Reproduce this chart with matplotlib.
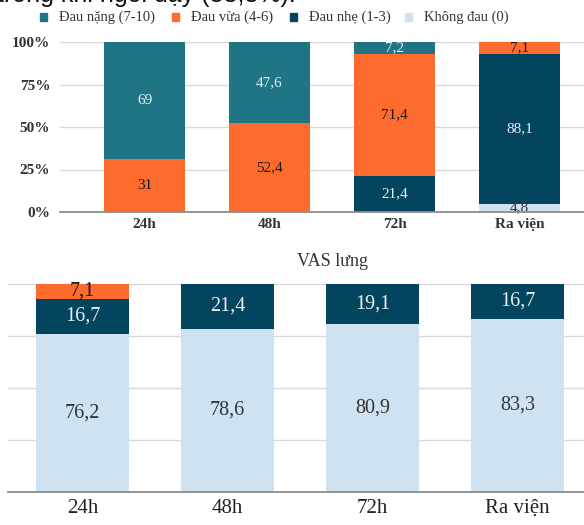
import numpy as np
import matplotlib.pyplot as plt

plt.rcParams['font.family'] = ['Liberation Serif', 'DejaVu Serif']

# phân bố mức độ đau (%) theo thời điểm
times = ["24h", "48h", "72h", "Ra viện"]
series = ["Đau nặng (7-10)", "Đau vừa (4-6)", "Đau nhẹ (1-3)", "Không đau (0)"]

# biểu đồ trên
top_khong = [0, 0, 0, 4.8]
top_nhe = [0, 0, 21.4, 88.1]
top_vua = [31, 52.4, 71.4, 7.1]
top_nang = [69, 47.6, 7.2, 0]

# VAS lưng
vas_khong = [76.2, 78.6, 80.9, 83.3]
vas_nhe = [16.7, 21.4, 19.1, 16.7]
vas_vua = [7.1, 0, 0, 0]

c_nang = "#1f7585"
c_vua = "#fe6b2e"
c_nhe = "#03445f"
c_khong = "#cfe2f2"
txt_color = {c_nang: "#e8f0f2", c_vua: "#1a1a1a", c_nhe: "#e8eef2", c_khong: "#333333"}

W, H = 584, 525
fig = plt.figure(figsize=(W / 100, H / 100), dpi=100)


def px_axes(left, top, right, bottom):
    return fig.add_axes([left / W, 1 - bottom / H, (right - left) / W, (bottom - top) / H])


def stacked(ax, layers, width, fs):
    x = np.arange(len(times))
    base = np.zeros(len(times))
    for vals, col in layers:
        vals = np.array(vals, dtype=float)
        ax.bar(x, vals, width, bottom=base, color=col, zorder=2)
        for xi, b, v in zip(x, base, vals):
            if v > 0:
                ax.text(xi, b + v / 2, f"{v:g}".replace(".", ","), ha="center", va="center",
                        fontsize=fs, color=txt_color[col], zorder=3)
        base += vals
    ax.set_ylim(0, 100)
    ax.set_yticks([0, 25, 50, 75, 100])
    ax.grid(axis="y", color="#d9d9d9", lw=1, zorder=0)
    for s in ["top", "right", "left"]:
        ax.spines[s].set_visible(False)
    ax.spines["bottom"].set_color("#8c8c8c")
    ax.spines["bottom"].set_linewidth(1.3)
    ax.spines["bottom"].set_zorder(4)
    ax.set_xticks(x)
    ax.set_xticklabels(times)
    ax.tick_params(length=0)


# dòng chữ phía trên (bị cắt)
fig.text(-0.005, 1 - 2 / H, "trong khi ngồi dậy (83,3%).", fontsize=18,
         family="Liberation Sans", va="baseline", ha="left", color="#111111")

# chú thích
leg_items = [(c_nang, 40, series[0]), (c_vua, 172, series[1]),
             (c_nhe, 290, series[2]), (c_khong, 405, series[3])]
for col, xp, lab in leg_items:
    fig.patches.append(plt.Rectangle((xp / W, 1 - 21 / H), 7 / W, 8 / H,
                                     color=col, transform=fig.transFigure, figure=fig))
    fig.text((xp + 19) / W, 1 - 17 / H, lab, fontsize=10.5, va="center", ha="left", color="#333333")

# biểu đồ trên
ax1 = px_axes(60, 42, 584, 212)
stacked(ax1, [(top_khong, c_khong), (top_nhe, c_nhe), (top_vua, c_vua), (top_nang, c_nang)],
        0.648, 11)
ax1.set_xlim(-0.676, 3.516)
ax1.set_yticklabels(["0%", "25%", "50%", "75%", "100%"])
ax1.tick_params(axis="y", pad=7)
ax1.tick_params(axis="x", pad=4)
for lbl in ax1.get_xticklabels() + ax1.get_yticklabels():
    lbl.set_fontweight("bold")
    lbl.set_fontsize(11)
    lbl.set_color("#333333")

# biểu đồ VAS lưng
ax2 = px_axes(8, 284, 584, 492)
stacked(ax2, [(vas_khong, c_khong), (vas_nhe, c_nhe), (vas_vua, c_vua)], 0.641, 14.5)
ax2.set_xlim(-0.514, 3.459)
ax2.set_yticklabels([])
ax2.tick_params(axis="x", pad=5, labelsize=15, labelcolor="#222222")
fig.text(332 / W, 1 - 262 / H, "VAS lưng", fontsize=13, ha="center", va="center", color="#333333")

fig.savefig("out.png", dpi=100)
